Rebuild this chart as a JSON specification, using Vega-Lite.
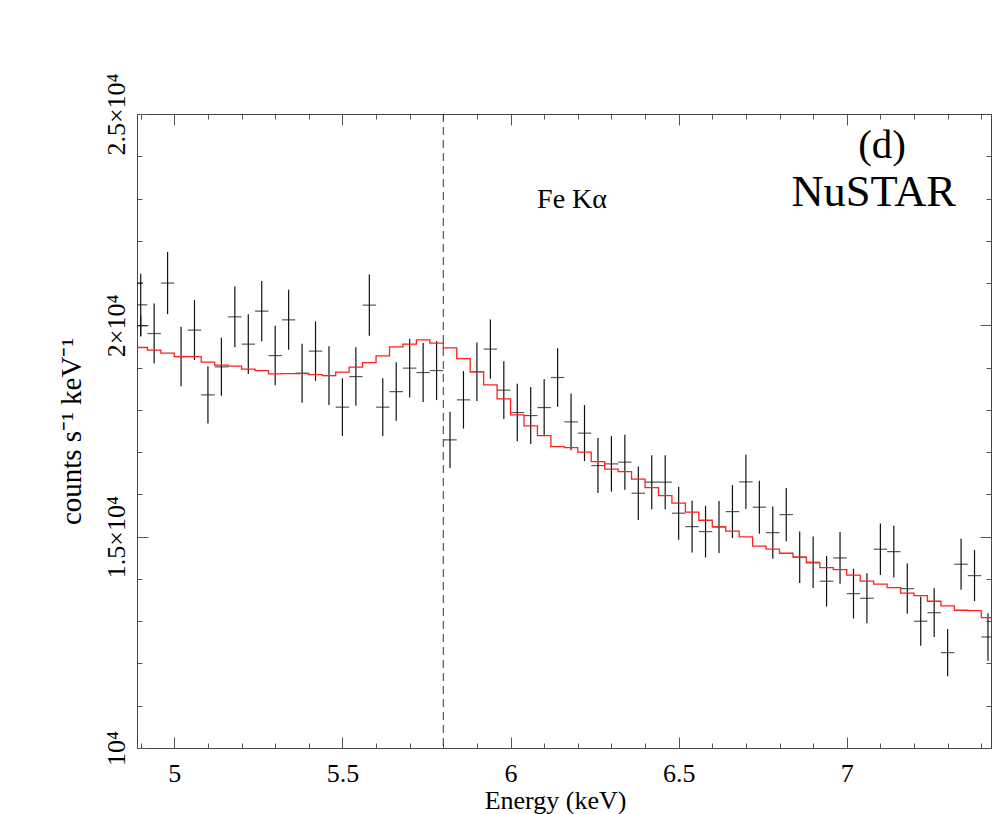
{
  "$schema": "https://vega.github.io/schema/vega-lite/v6.json",
  "width": 854,
  "height": 634,
  "autosize": {"type": "none"},
  "padding": {"left": 137, "top": 114, "right": 1, "bottom": 66},
  "background": "white",
  "config": {
    "view": {"stroke": null},
    "font": "Liberation Serif",
    "axis": {
      "grid": false,
      "domainColor": "#444",
      "tickColor": "#555",
      "labelFont": "Liberation Serif",
      "titleFont": "Liberation Serif",
      "labelColor": "#000",
      "titleColor": "#000",
      "labelFontSize": 26,
      "titleFontSize": 26,
      "titleFontWeight": "normal",
      "labelFlush": false,
      "labelOverlap": false
    }
  },
  "datasets": {
    "spec": [
      {"e": 4.887, "r": 21006, "err": 730},
      {"e": 4.90, "r": 19988, "err": 250},
      {"e": 4.90, "r": 20485, "err": 734},
      {"e": 4.94, "r": 19806, "err": 710},
      {"e": 4.98, "r": 20999, "err": 734},
      {"e": 5.02, "r": 19262, "err": 703},
      {"e": 5.06, "r": 19886, "err": 710},
      {"e": 5.10, "r": 18355, "err": 679},
      {"e": 5.14, "r": 19018, "err": 686},
      {"e": 5.18, "r": 20201, "err": 717},
      {"e": 5.22, "r": 19555, "err": 705},
      {"e": 5.26, "r": 20336, "err": 715},
      {"e": 5.30, "r": 19285, "err": 705},
      {"e": 5.34, "r": 20130, "err": 710},
      {"e": 5.38, "r": 18869, "err": 698},
      {"e": 5.42, "r": 19390, "err": 703},
      {"e": 5.46, "r": 18812, "err": 694},
      {"e": 5.50, "r": 18064, "err": 682},
      {"e": 5.54, "r": 18788, "err": 691},
      {"e": 5.58, "r": 20478, "err": 727},
      {"e": 5.62, "r": 18064, "err": 682},
      {"e": 5.66, "r": 18433, "err": 691},
      {"e": 5.70, "r": 18987, "err": 694},
      {"e": 5.74, "r": 18883, "err": 698},
      {"e": 5.78, "r": 18930, "err": 698},
      {"e": 5.82, "r": 17290, "err": 663},
      {"e": 5.86, "r": 18237, "err": 679},
      {"e": 5.90, "r": 18900, "err": 691},
      {"e": 5.94, "r": 19437, "err": 703},
      {"e": 5.98, "r": 18466, "err": 682},
      {"e": 6.02, "r": 17936, "err": 679},
      {"e": 6.06, "r": 17865, "err": 675},
      {"e": 6.10, "r": 18055, "err": 670},
      {"e": 6.14, "r": 18765, "err": 691},
      {"e": 6.18, "r": 17716, "err": 670},
      {"e": 6.22, "r": 17449, "err": 663},
      {"e": 6.26, "r": 16682, "err": 651},
      {"e": 6.30, "r": 16722, "err": 656},
      {"e": 6.34, "r": 16762, "err": 651},
      {"e": 6.38, "r": 16028, "err": 632},
      {"e": 6.42, "r": 16289, "err": 639},
      {"e": 6.46, "r": 16289, "err": 639},
      {"e": 6.50, "r": 15555, "err": 627},
      {"e": 6.54, "r": 15238, "err": 615},
      {"e": 6.58, "r": 15120, "err": 611},
      {"e": 6.62, "r": 15231, "err": 615},
      {"e": 6.66, "r": 15593, "err": 627},
      {"e": 6.70, "r": 16296, "err": 644},
      {"e": 6.74, "r": 15697, "err": 627},
      {"e": 6.78, "r": 15096, "err": 620},
      {"e": 6.82, "r": 15522, "err": 632},
      {"e": 6.86, "r": 14514, "err": 611},
      {"e": 6.90, "r": 14395, "err": 608},
      {"e": 6.94, "r": 13946, "err": 599},
      {"e": 6.98, "r": 14497, "err": 611},
      {"e": 7.02, "r": 13652, "err": 587},
      {"e": 7.06, "r": 13543, "err": 592},
      {"e": 7.10, "r": 14703, "err": 611},
      {"e": 7.14, "r": 14646, "err": 611},
      {"e": 7.18, "r": 13770, "err": 596},
      {"e": 7.22, "r": 12999, "err": 580},
      {"e": 7.26, "r": 13202, "err": 575},
      {"e": 7.30, "r": 12256, "err": 561},
      {"e": 7.34, "r": 14348, "err": 604},
      {"e": 7.38, "r": 14078, "err": 604},
      {"e": 7.42, "r": 12627, "err": 561}
    ],
    "model": [
      {"elo": 4.88, "m": 19475}, {"elo": 4.92, "m": 19413}, {"elo": 4.96, "m": 19342}, {"elo": 5.00, "m": 19262},
      {"elo": 5.04, "m": 19262}, {"elo": 5.08, "m": 19129}, {"elo": 5.12, "m": 19058}, {"elo": 5.16, "m": 19034},
      {"elo": 5.20, "m": 18963}, {"elo": 5.24, "m": 18930}, {"elo": 5.28, "m": 18852}, {"elo": 5.32, "m": 18859},
      {"elo": 5.36, "m": 18859}, {"elo": 5.40, "m": 18836}, {"elo": 5.44, "m": 18812}, {"elo": 5.48, "m": 18892},
      {"elo": 5.52, "m": 19011}, {"elo": 5.56, "m": 19120}, {"elo": 5.60, "m": 19278}, {"elo": 5.64, "m": 19491},
      {"elo": 5.68, "m": 19555}, {"elo": 5.72, "m": 19657}, {"elo": 5.76, "m": 19579}, {"elo": 5.80, "m": 19468},
      {"elo": 5.84, "m": 19214}, {"elo": 5.88, "m": 18900}, {"elo": 5.92, "m": 18592}, {"elo": 5.96, "m": 18260},
      {"elo": 6.00, "m": 17882}, {"elo": 6.04, "m": 17621}, {"elo": 6.08, "m": 17392}, {"elo": 6.12, "m": 17132},
      {"elo": 6.16, "m": 17108}, {"elo": 6.20, "m": 16999}, {"elo": 6.24, "m": 16776}, {"elo": 6.28, "m": 16597},
      {"elo": 6.32, "m": 16540}, {"elo": 6.36, "m": 16360}, {"elo": 6.40, "m": 16161}, {"elo": 6.44, "m": 15972},
      {"elo": 6.48, "m": 15792}, {"elo": 6.52, "m": 15579}, {"elo": 6.56, "m": 15389}, {"elo": 6.60, "m": 15231},
      {"elo": 6.64, "m": 15129}, {"elo": 6.68, "m": 14994}, {"elo": 6.72, "m": 14774}, {"elo": 6.76, "m": 14703},
      {"elo": 6.80, "m": 14608}, {"elo": 6.84, "m": 14514}, {"elo": 6.88, "m": 14379}, {"elo": 6.92, "m": 14268},
      {"elo": 6.96, "m": 14220}, {"elo": 7.00, "m": 14088}, {"elo": 7.04, "m": 13946}, {"elo": 7.08, "m": 13875},
      {"elo": 7.12, "m": 13794}, {"elo": 7.16, "m": 13662}, {"elo": 7.20, "m": 13605}, {"elo": 7.24, "m": 13472},
      {"elo": 7.28, "m": 13361}, {"elo": 7.32, "m": 13259}, {"elo": 7.36, "m": 13250}, {"elo": 7.40, "m": 13084},
      {"elo": 7.44, "m": 13084}
    ],
    "line": [{"e": 5.8}]
  },
  "resolve": {"axis": {"x": "independent", "y": "independent"}},
  "layer": [
    {
      "data": {"name": "spec"},
      "mark": {"type": "errorbar", "ticks": false, "color": "#111", "thickness": 1.2, "clip": true},
      "encoding": {
        "x": {"field": "e", "type": "quantitative", "scale": {"domain": [4.889, 7.429], "nice": false, "zero": false},
          "axis": {"orient": "bottom", "values": [5, 5.5, 6, 6.5, 7], "tickSize": -11, "labelPadding": 23, "labelFont": "Liberation Serif", "labelFontSize": 26, "labelExpr": "'' + datum.value",
            "title": "Energy (keV)", "titleFont": "Liberation Serif", "titleFontSize": 26, "titleX": 418, "titleY": 60, "titleAlign": "center", "titleBaseline": "alphabetic"}},
        "y": {"field": "r", "type": "quantitative", "scale": {"domain": [10000, 25000], "nice": false, "zero": false},
          "axis": {"orient": "left", "values": [10000, 15000, 20000, 25000], "tickSize": -11, "labelPadding": 24, "labelAngle": -90, "labelAlign": "center", "labelBaseline": "alphabetic",
            "labelFont": "Liberation Serif", "labelFontSize": 26,
            "labelExpr": "datum.value == 10000 ? '10⁴' : datum.value == 15000 ? '1.5×10⁴' : datum.value == 20000 ? '2×10⁴' : '2.5×10⁴'",
            "title": "counts s⁻¹ keV⁻¹", "titleFont": "Liberation Serif", "titleFontSize": 29, "titleAngle": -90, "titleX": -57, "titleY": 317, "titleAlign": "center", "titleBaseline": "alphabetic"}},
        "yError": {"field": "err"}
      }
    },
    {
      "data": {"name": "spec"},
      "mark": {"type": "tick", "orient": "horizontal", "color": "#111", "size": 13.45, "thickness": 1.2, "clip": true},
      "encoding": {
        "x": {"field": "e", "type": "quantitative", "scale": {"domain": [4.889, 7.429], "nice": false, "zero": false},
          "axis": {"orient": "bottom", "values": [4.9, 5.0, 5.1, 5.2, 5.3, 5.4, 5.5, 5.6, 5.7, 5.8, 5.9, 6.0, 6.1, 6.2, 6.3, 6.4, 6.5, 6.6, 6.7, 6.8, 6.9, 7.0, 7.1, 7.2, 7.3, 7.4], "tickSize": -5, "labels": false, "title": null}},
        "y": {"field": "r", "type": "quantitative", "scale": {"domain": [10000, 25000], "nice": false, "zero": false},
          "axis": {"orient": "left", "values": [11000, 12000, 13000, 14000, 15000, 16000, 17000, 18000, 19000, 20000, 21000, 22000, 23000, 24000], "tickSize": -5, "labels": false, "title": null}}
      }
    },
    {
      "data": {"name": "model"},
      "mark": {"type": "line", "interpolate": "step-after", "color": "#ff2020", "strokeWidth": 1.3, "clip": true},
      "encoding": {
        "x": {"field": "elo", "type": "quantitative", "scale": {"domain": [4.889, 7.429], "nice": false, "zero": false},
          "axis": {"orient": "top", "values": [5, 5.5, 6, 6.5, 7], "tickSize": -11, "labels": false, "title": null}},
        "y": {"field": "m", "type": "quantitative", "scale": {"domain": [10000, 25000], "nice": false, "zero": false},
          "axis": {"orient": "right", "values": [15000, 20000], "tickSize": -11, "labels": false, "title": null}}
      }
    },
    {
      "data": {"name": "line"},
      "mark": {"type": "rule", "color": "#333", "strokeWidth": 1, "strokeDash": [8, 5]},
      "encoding": {
        "x": {"field": "e", "type": "quantitative", "scale": {"domain": [4.889, 7.429], "nice": false, "zero": false},
          "axis": {"orient": "top", "values": [4.9, 5.0, 5.1, 5.2, 5.3, 5.4, 5.5, 5.6, 5.7, 5.8, 5.9, 6.0, 6.1, 6.2, 6.3, 6.4, 6.5, 6.6, 6.7, 6.8, 6.9, 7.0, 7.1, 7.2, 7.3, 7.4], "tickSize": -5, "labels": false, "title": null}}
      }
    },
    {
      "data": {"values": [{}]},
      "mark": {"type": "text", "text": "Fe Kα", "fontSize": 28, "align": "left", "baseline": "alphabetic", "font": "Liberation Serif", "color": "#000"},
      "encoding": {
        "x": {"datum": 6.079, "type": "quantitative", "axis": null},
        "y": {"datum": 22781, "type": "quantitative",
          "axis": {"orient": "right", "values": [11000, 12000, 13000, 14000, 15000, 16000, 17000, 18000, 19000, 20000, 21000, 22000, 23000, 24000], "tickSize": -5, "labels": false, "title": null}}
      }
    },
    {
      "data": {"values": [{}]},
      "mark": {"type": "text", "text": "(d)", "fontSize": 41, "align": "center", "baseline": "alphabetic", "font": "Liberation Serif", "color": "#000"},
      "encoding": {
        "x": {"datum": 7.105, "type": "quantitative", "axis": null},
        "y": {"datum": 23960, "type": "quantitative", "axis": null}
      }
    },
    {
      "data": {"values": [{}]},
      "mark": {"type": "text", "text": "NuSTAR", "fontSize": 44.5, "align": "center", "baseline": "alphabetic", "font": "Liberation Serif", "color": "#000"},
      "encoding": {
        "x": {"datum": 7.080, "type": "quantitative", "axis": null},
        "y": {"datum": 22829, "type": "quantitative", "axis": null}
      }
    }
  ]
}
